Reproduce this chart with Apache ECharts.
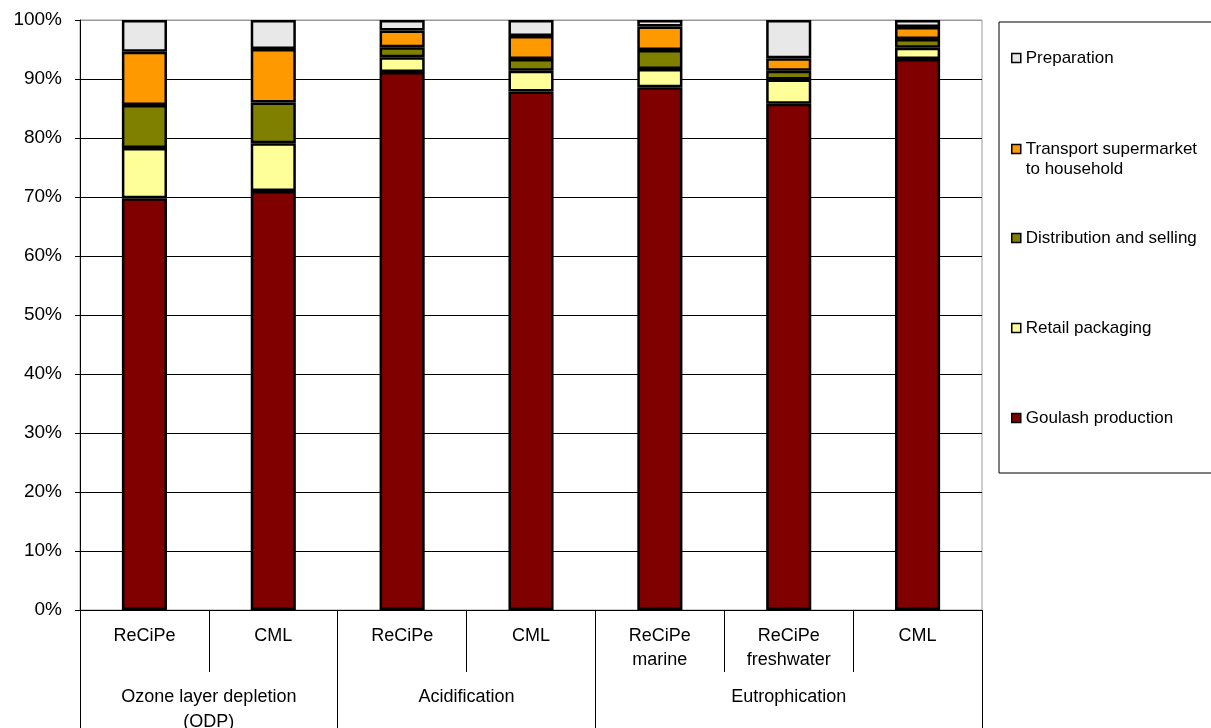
<!DOCTYPE html>
<html>
<head>
<meta charset="utf-8">
<title>Goulash life cycle contributions</title>
<script src="https://cdn.jsdelivr.net/npm/echarts@6/dist/echarts.min.js"></script>
<style>
  html, body { margin: 0; padding: 0; background: #fff; }
  #chart { width: 1211px; height: 728px; }
</style>
</head>
<body>
<div id="chart"></div>
<script>
// Methods (first level of the category axis)
const methods = ['ReCiPe', 'CML', 'ReCiPe', 'CML', 'ReCiPe\nmarine', 'ReCiPe\nfreshwater', 'CML'];
// Impact categories (second level) and how many methods each spans
const impactGroups = ['Ozone layer depletion\n(ODP)', 'Acidification', 'Eutrophication'];
const impactGroupSizes = [2, 2, 3];

// Share of each life cycle stage, in percent
const goulashProduction = [69.8, 71.0, 91.2, 87.9, 88.6, 85.8, 93.4];
const retailPackaging   = [8.5, 8.1, 2.5, 3.5, 3.1, 4.1, 1.9];
const distribution      = [7.3, 6.9, 1.7, 2.0, 3.2, 1.5, 1.5];
const transport         = [9.0, 9.1, 2.8, 3.9, 4.0, 2.1, 2.0];
const preparation       = [5.4, 4.9, 1.8, 2.7, 1.1, 6.5, 1.2];

// Percent axis tick labels
const percentTicks = [0, 10, 20, 30, 40, 50, 60, 70, 80, 90, 100];

const FONT = "'Liberation Sans', Arial, sans-serif";

const stages = [
  { name: 'Goulash production', data: goulashProduction, color: '#800000' },
  { name: 'Retail packaging', data: retailPackaging, color: '#FFFF99' },
  { name: 'Distribution and selling', data: distribution, color: '#808000' },
  { name: 'Transport supermarket\nto household', data: transport, color: '#FF9900' },
  { name: 'Preparation', data: preparation, color: '#E8E8E8' }
];

// Group boundaries and centres along a 0..n scale
const groupEdges = [0];
const groupCentres = [];
impactGroupSizes.forEach(function (s, i) {
  groupCentres.push(groupEdges[i] + s / 2);
  groupEdges.push(groupEdges[i] + s);
});

const chart = echarts.init(document.getElementById('chart'), null, { renderer: 'canvas' });

// Legend entries, top to bottom, each placed by its own legend component.
// A two-line entry gets an empty leading line so its swatch sits on the first line.
const legendOrder = ['Preparation', 'Transport supermarket\nto household', 'Distribution and selling', 'Retail packaging', 'Goulash production'];
const legendTops = [48, 119, 228, 318, 408];
const legends = legendOrder.map(function (n, i) {
  return {
    data: [n],
    orient: 'vertical',
    left: 1011,
    top: legendTops[i],
    padding: 0,
    itemWidth: 9,
    itemHeight: 9,
    itemGap: 0,
    icon: 'rect',
    selectedMode: false,
    formatter: function (name) {
      return name.indexOf('\n') >= 0 ? ' \n' + name : name;
    },
    textStyle: {
      fontFamily: FONT,
      fontSize: 17,
      color: '#000',
      lineHeight: 20
    },
    itemStyle: { borderColor: '#000', borderWidth: 1.5 }
  };
});

const option = {
  animation: false,
  backgroundColor: '#fff',
  textStyle: { fontFamily: FONT },
  grid: {
    left: 80, right: 229, top: 20, bottom: 118,
    outerBoundsMode: 'none',
    containLabel: false,
    show: true, borderColor: '#999', borderWidth: 1, backgroundColor: 'transparent'
  },
  legend: legends,
  graphic: [{
    type: 'rect',
    shape: { x: 999, y: 22, width: 240, height: 451 },
    style: { fill: 'none', stroke: '#000', lineWidth: 1 },
    silent: true
  }],
  xAxis: [{
    type: 'category',
    data: methods,
    position: 'bottom',
    axisLine: { show: true, lineStyle: { color: '#000', width: 1 } },
    axisTick: { show: true, interval: 0, length: 62, lineStyle: { color: '#000', width: 1 } },
    axisLabel: {
      interval: 0, fontSize: 18, color: '#000', fontFamily: FONT,
      lineHeight: 24, margin: 14
    },
    splitLine: { show: false }
  }, {
    type: 'value',
    min: 0,
    max: methods.length,
    position: 'bottom',
    axisLine: { show: false },
    axisTick: {
      show: true, customValues: groupEdges, length: 118,
      lineStyle: { color: '#000', width: 1 }
    },
    axisLabel: {
      customValues: groupCentres,
      fontSize: 18, color: '#000', fontFamily: FONT,
      lineHeight: 25, margin: 75,
      formatter: function (v) {
        const i = groupCentres.indexOf(v);
        return i >= 0 ? impactGroups[i] : '';
      }
    },
    splitLine: { show: false }
  }],
  yAxis: {
    type: 'value',
    min: percentTicks[0],
    max: percentTicks[percentTicks.length - 1],
    interval: 10,
    axisLine: { show: true, lineStyle: { color: '#000', width: 1 } },
    axisTick: { show: true, length: 5, lineStyle: { color: '#000' } },
    axisLabel: {
      fontSize: 19, color: '#000', fontFamily: FONT, margin: 18,
      formatter: function (v) { return v + '%'; }
    },
    splitLine: {
      show: true,
      lineStyle: {
        width: 1,
        color: percentTicks.map(function (t, i) { return i === percentTicks.length - 1 ? '#999' : '#000'; })
      }
    }
  },
  series: stages.map(function (s) {
    return {
      name: s.name,
      type: 'bar',
      stack: 'total',
      xAxisIndex: 0,
      yAxisIndex: 0,
      barWidth: '35%',
      data: s.data,
      itemStyle: { color: s.color, borderColor: '#000', borderWidth: 2.5 }
    };
  })
};

chart.setOption(option);
</script>
</body>
</html>
